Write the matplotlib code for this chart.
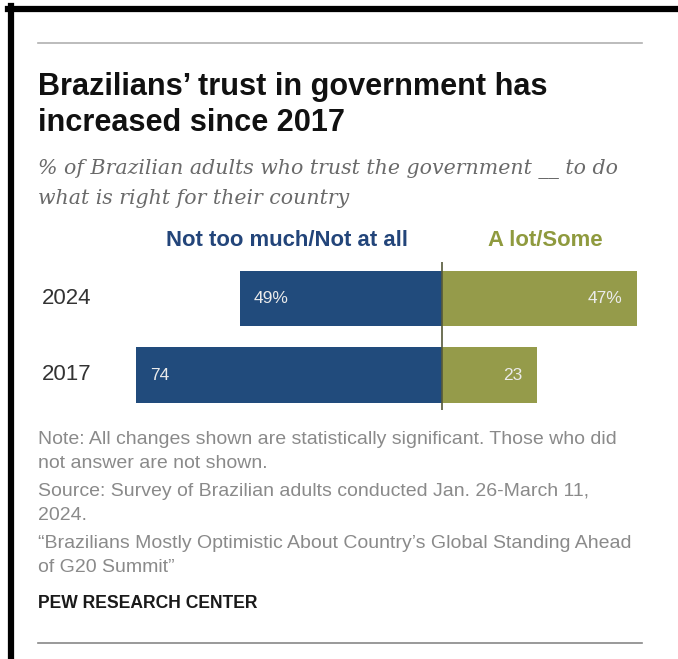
import matplotlib
matplotlib.use('Agg')
import matplotlib.pyplot as plt
import matplotlib.lines as mlines

# data
years = ['2017', '2024']
not_much = [74, 49]
a_lot = [23, 47]
neg_labels = ['74', '49%']
pos_labels = ['23', '47%']

W, H = 678, 659
blue = '#214b7c'
olive = '#959b4a'
sans = ['Liberation Sans', 'DejaVu Sans']
serif = ['DejaVu Serif', 'Liberation Serif']

fig = plt.figure(figsize=(W / 100, H / 100), dpi=100)
renderer = fig.canvas.get_renderer()

def fx(px):
    return px / W

def fy(py):
    return 1 - py / H

def fit(t, width):
    # scale font so the text spans about `width` pixels
    w = t.get_window_extent(renderer).width
    t.set_fontsize(t.get_fontsize() * width / w)
    return t

# black frame on top and left
fig.add_artist(mlines.Line2D([fx(8), 1], [fy(8.5), fy(8.5)], color='black', lw=4.5))
fig.add_artist(mlines.Line2D([fx(10.5), fx(10.5)], [fy(6), 0], color='black', lw=4.5))

# gray rules
fig.add_artist(mlines.Line2D([fx(38), fx(642)], [fy(43), fy(43)], color='#b0b0b0', lw=1.2))
fig.add_artist(mlines.Line2D([fx(38), fx(642)], [fy(643), fy(643)], color='#888888', lw=1.2))

# title
t1 = fig.text(fx(38), fy(95), "Brazilians\u2019 trust in government has", family=sans,
              weight='bold', fontsize=20, color='#111111', va='baseline')
fs = fit(t1, 509).get_fontsize()
fig.text(fx(38), fy(131), "increased since 2017", family=sans,
         weight='bold', fontsize=fs, color='#111111', va='baseline')

# subtitle
s1 = fig.text(fx(38), fy(174), "% of Brazilian adults who trust the government __ to do",
              family=serif, style='italic', fontsize=14, color='#6a6a6a', va='baseline')
fs = fit(s1, 583).get_fontsize()
fig.text(fx(38), fy(204), "what is right for their country",
         family=serif, style='italic', fontsize=fs, color='#6a6a6a', va='baseline')

# column headers
h1 = fig.text(fx(287), fy(240), "Not too much/Not at all", family=sans, weight='bold',
              fontsize=13, color='#23457a', ha='center', va='center')
fs = fit(h1, 241).get_fontsize()
fig.text(fx(545), fy(240), "A lot/Some", family=sans, weight='bold',
         fontsize=fs, color='#8f9a3e', ha='center', va='center')

# bars
ax = fig.add_axes([fx(132), fy(410), (649 - 132) / W, 148 / H])
ypos = list(range(len(years)))
neg = [-v for v in not_much]
ax.barh(ypos, neg, height=0.72, color=blue)
ax.barh(ypos, a_lot, height=0.72, color=olive)
ax.axvline(0, color='#55593a', lw=1.2)
ax.set_xlim(-75, 50)
ax.set_ylim(-0.457, 1.477)
ax.axis('off')

for i in ypos:
    ax.text(neg[i] + 3.5, i, neg_labels[i], color='#ebebeb', fontsize=12.5,
            family=sans, ha='left', va='center')
    ax.text(a_lot[i] - 3.5, i, pos_labels[i], color='#ebebeb', fontsize=12.5,
            family=sans, ha='right', va='center')
    fig.text(fx(42), fy(410 - 35 - 76.5 * i), years[i], fontsize=16,
             family=sans, color='#333333', va='center')

# notes
notes = [
    (440, "Note: All changes shown are statistically significant. Those who did"),
    (464, "not answer are not shown."),
    (492, "Source: Survey of Brazilian adults conducted Jan. 26-March 11,"),
    (516, "2024."),
    (543, "\u201cBrazilians Mostly Optimistic About Country\u2019s Global Standing Ahead"),
    (567, "of G20 Summit\u201d"),
]
n1 = fig.text(fx(38), fy(notes[0][0]), notes[0][1], family=sans, fontsize=12,
              color='#8a8a8a', va='center')
fs = fit(n1, 576).get_fontsize()
for py, t in notes[1:]:
    fig.text(fx(38), fy(py), t, family=sans, fontsize=fs, color='#8a8a8a', va='center')

p = fig.text(fx(38), fy(603), "PEW RESEARCH CENTER", family=sans, weight='bold',
             fontsize=12, color='#1a1a1a', va='center')
fit(p, 220)

fig.savefig('out.png', dpi=100)
